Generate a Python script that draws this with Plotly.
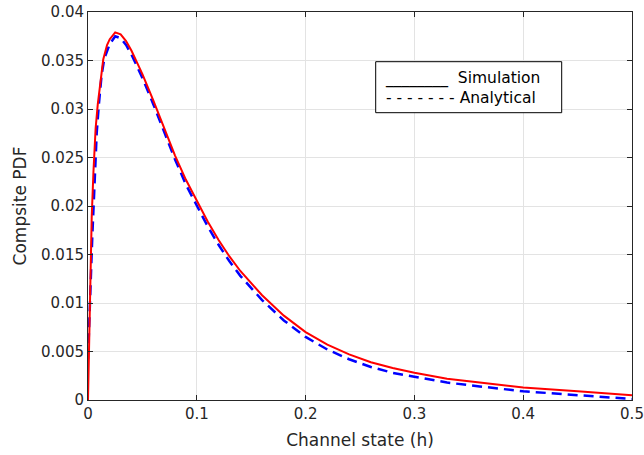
import plotly.graph_objects as go

# Simulation (red, solid)
sim_h = [0, 0.0018, 0.0034, 0.005, 0.007, 0.009, 0.012, 0.014, 0.0175, 0.02, 0.025, 0.03, 0.035,
         0.04, 0.045, 0.05, 0.06, 0.07, 0.08, 0.09, 0.1, 0.11, 0.12, 0.13, 0.14, 0.15, 0.16,
         0.18, 0.2, 0.22, 0.24, 0.26, 0.28, 0.3, 0.33, 0.36, 0.4, 0.45, 0.5]
sim_v = [0, 0.0103, 0.0188, 0.0235, 0.0280, 0.0305, 0.0335, 0.0351, 0.0366, 0.0372, 0.0379, 0.0377, 0.0370,
         0.0360, 0.0348, 0.0336, 0.0309, 0.0280, 0.0252, 0.0227, 0.0205, 0.0184, 0.0165, 0.0148, 0.0133, 0.0120, 0.0108,
         0.0087, 0.0070, 0.0057, 0.0047, 0.0039, 0.0033, 0.0028, 0.0022, 0.0018, 0.0013, 0.0009, 0.0005]

# Analytical (blue, dashed)
ana_h = [0, 0.002, 0.004, 0.006, 0.008, 0.01, 0.0125, 0.015, 0.02, 0.025, 0.03, 0.035, 0.04, 0.045,
         0.05, 0.06, 0.07, 0.08, 0.09, 0.1, 0.11, 0.12, 0.13, 0.14, 0.15, 0.16, 0.18, 0.2, 0.22,
         0.24, 0.26, 0.28, 0.3, 0.33, 0.36, 0.4, 0.45, 0.5]
ana_v = [0.0042, 0.0115, 0.0170, 0.0222, 0.0275, 0.0305, 0.0335, 0.0352, 0.0367, 0.0375, 0.0373, 0.0366, 0.0356, 0.0344,
         0.0332, 0.0305, 0.0276, 0.0248, 0.0222, 0.0200, 0.0179, 0.0160, 0.0143, 0.0128, 0.0115, 0.0103, 0.0082, 0.0065, 0.0052,
         0.0042, 0.0034, 0.0028, 0.0024, 0.0018, 0.0014, 0.0009, 0.0005, 0.0001]

x_ticks = [0, 0.1, 0.2, 0.3, 0.4, 0.5]
x_labels = ["0", "0.1", "0.2", "0.3", "0.4", "0.5"]
y_ticks = [0, 0.005, 0.01, 0.015, 0.02, 0.025, 0.03, 0.035, 0.04]
y_labels = ["0", "0.005", "0.01", "0.015", "0.02", "0.025", "0.03", "0.035", "0.04"]

FONT = "DejaVu Sans"
AX = "#262626"

fig = go.Figure()
fig.add_trace(go.Scatter(x=ana_h, y=ana_v, mode="lines", name="Analytical",
                         line=dict(color="#0000ff", width=2.5, dash="10px,6px")))
fig.add_trace(go.Scatter(x=sim_h, y=sim_v, mode="lines", name="Simulation",
                         line=dict(color="#ff0000", width=2)))

axis_common = dict(showline=True, linecolor=AX, linewidth=1, mirror="ticks",
                   ticks="inside", ticklen=5, tickcolor=AX, automargin=False,
                   showgrid=True, gridcolor="#e3e3e3", gridwidth=1,
                   zeroline=False, tickfont=dict(family=FONT, size=15, color=AX))

fig.update_xaxes(range=[0, 0.5], tickvals=x_ticks, ticktext=x_labels,
                 title=dict(text="Channel state (h)", font=dict(family=FONT, size=17, color=AX), standoff=12),
                 **axis_common)
fig.update_yaxes(range=[0, 0.04], tickvals=y_ticks, ticktext=y_labels,
                 title=dict(text="Compsite PDF", font=dict(family=FONT, size=17, color=AX), standoff=10),
                 **axis_common)

# legend box drawn as in reference (text-based line samples)
fig.add_shape(type="rect", xref="paper", yref="paper",
              x0=(375.7 - 88) / 544, x1=(561.7 - 88) / 544,
              y0=(400 - 112.7) / 388, y1=(400 - 61.7) / 388,
              line=dict(color="black", width=1), fillcolor="white", layer="above")
fig.add_annotation(xref="paper", yref="paper",
                   x=(383 - 88) / 544, y=(400 - 88) / 388,
                   xanchor="left", yanchor="middle", showarrow=False, align="left",
                   text="________&nbsp; Simulation<br>- - - - - - - Analytical",
                   font=dict(family=FONT, size=15.5, color="black"))

fig.update_layout(width=644, height=455, showlegend=False,
                  margin=dict(l=88, r=12, t=12, b=55, autoexpand=False),
                  paper_bgcolor="white", plot_bgcolor="white")

fig.write_html("out.html", config={"displayModeBar": False},
               post_script="document.body.style.margin='0';")
